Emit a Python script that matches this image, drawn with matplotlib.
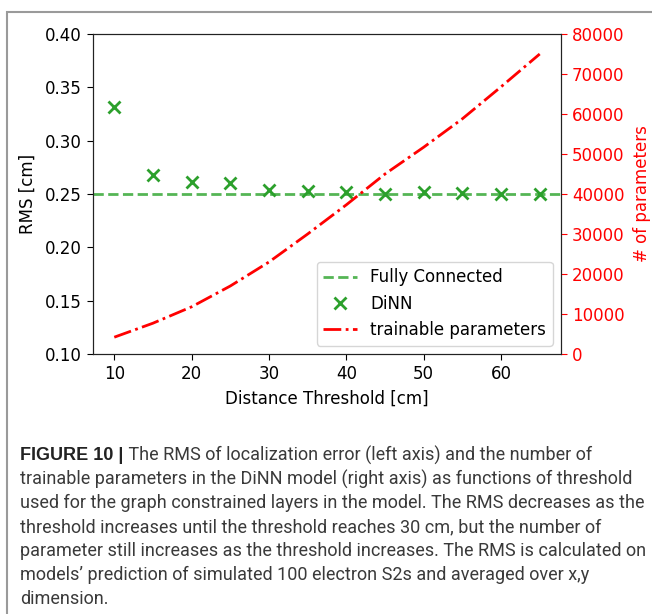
import matplotlib
matplotlib.use("Agg")
import matplotlib.pyplot as plt
from matplotlib.patches import Rectangle

thresholds = [10, 15, 20, 25, 30, 35, 40, 45, 50, 55, 60, 65]
dinn_rms = [0.332, 0.268, 0.261, 0.260, 0.254, 0.253, 0.252, 0.250, 0.252, 0.251, 0.250, 0.250]
fully_connected_rms = 0.25
trainable_params = [4200, 7700, 11800, 17000, 23000, 30000, 37300, 45000, 51700, 58800, 66800, 75000]

caption_bold = "FIGURE 10 |"
caption_lines = [
    " The RMS of localization error (left axis) and the number of",
    "trainable parameters in the DiNN model (right axis) as functions of threshold",
    "used for the graph constrained layers in the model. The RMS decreases as the",
    "threshold increases until the threshold reaches 30 cm, but the number of",
    "parameter still increases as the threshold increases. The RMS is calculated on",
    "models\u2019 prediction of simulated 100 electron S2s and averaged over x,y",
    "dimension.",
]

W, H = 652, 614
fig = plt.figure(figsize=(W / 100, H / 100), dpi=100)

# outer frame
fig.patches.append(Rectangle((7 / W, -0.05), 1.1, (H - 12) / H + 0.05, transform=fig.transFigure,
                             fill=False, edgecolor="#9a9a9a", linewidth=1.5))

ax = fig.add_axes([93 / W, (H - 354) / H, (561 - 93) / W, (354 - 34) / H])
ax2 = ax.twinx()

fc = ax.axhline(fully_connected_rms, color="#55b555", linestyle="--", linewidth=2, label="Fully Connected")
sc = ax.plot(thresholds, dinn_rms, linestyle="none", marker="x", color="#2ca02c", markersize=8,
             markeredgewidth=2, label="DiNN")[0]
pl = ax2.plot(thresholds, trainable_params, color="red", linestyle="-.", linewidth=2,
              label="trainable parameters")[0]

ax.set_ylim(0.10, 0.40)
ax.set_yticks([0.10, 0.15, 0.20, 0.25, 0.30, 0.35, 0.40])
ax.set_yticklabels([f"{v:.2f}" for v in [0.10, 0.15, 0.20, 0.25, 0.30, 0.35, 0.40]])
ax.set_xticks([10, 20, 30, 40, 50, 60])
ax2.set_ylim(0, 80000)
ax2.set_yticks(range(0, 80001, 10000))

for a in (ax, ax2):
    for s in a.spines.values():
        s.set_color("#222222")

fs = 12
ax.tick_params(labelsize=fs, length=4.5)
ax2.tick_params(axis="y", labelsize=fs, colors="red", length=4.5)
ax.set_xlabel("Distance Threshold [cm]", fontsize=fs, labelpad=5)
ax.set_ylabel("RMS [cm]", fontsize=fs, labelpad=6)
ax2.set_ylabel("# of parameters", fontsize=fs, color="red", labelpad=6)

ax2.legend([fc, sc, pl], ["Fully Connected", "DiNN", "trainable parameters"], loc="lower right", fontsize=fs)

# caption
cfam = ["Roboto", "DejaVu Sans"]
bfam = ["Liberation Sans", "DejaVu Sans"]
cfs = 13
x0 = 20.5 / W
ys = [455, 479, 503, 527, 551, 575, 599]
ccol = "#3a3a3a"
tb = fig.text(x0, 1 - ys[0] / H, caption_bold, fontsize=cfs, family=bfam, weight="bold", va="center",
              color="#222222")
fig.canvas.draw()
bb = tb.get_window_extent(renderer=fig.canvas.get_renderer())
fig.text(bb.x1 / W, 1 - ys[0] / H, caption_lines[0], fontsize=cfs, family=cfam, va="center", color=ccol)
for y, line in zip(ys[1:], caption_lines[1:]):
    fig.text(20 / W, 1 - y / H, line, fontsize=cfs, family=cfam, va="center", color=ccol)

fig.savefig("out.png", dpi=100)
